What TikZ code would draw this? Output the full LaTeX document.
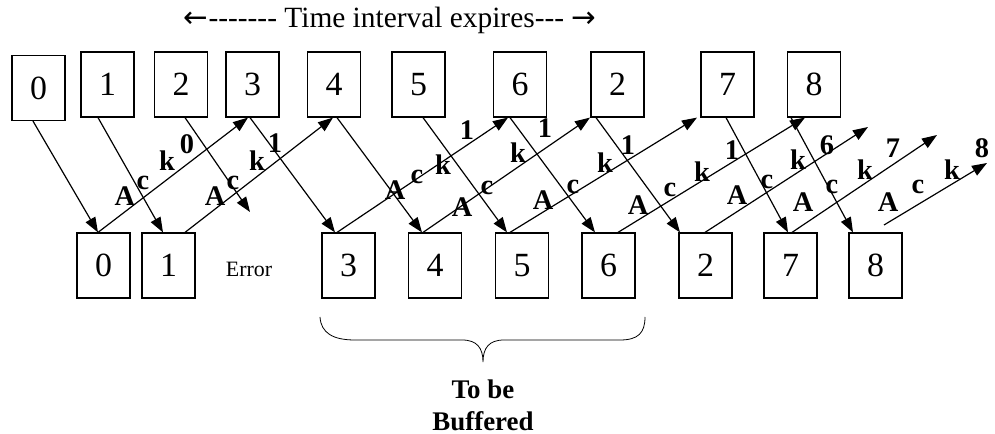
\documentclass[tikz,border=0pt]{standalone}
\usepackage{fontspec}
\setmainfont{Liberation Serif}
\newfontfamily\arrowfont{DejaVu Sans}
\usepackage{tikz}
\usetikzlibrary{arrows,arrows.meta,positioning,calc}
\tikzstyle{frame}=[draw,rectangle,minimum width=53bp,minimum height=65bp,inner sep=0pt,font=\fontsize{34}{36}\selectfont]
\tikzstyle{ack}=[inner sep=0pt,font=\bfseries\fontsize{28.5}{30}\selectfont]
\tikzstyle{pkt}=[-{Triangle[length=15bp,width=11bp]}]

\begin{document}
\begin{tikzpicture}[x=1bp,y=-1bp,very thick]
\useasboundingbox (0,0) rectangle (995,434);

% timer
\node[inner sep=0pt,font=\fontsize{29.5}{31}\selectfont] (timer) at (390,20)
  {{\arrowfont ←}-{}-{}-{}-{}-{}-{}- Time interval expires-{}-{}- {\arrowfont →}};

% sent frames
\node[frame] (s0) at (38.5,88) {0};
\node[frame] (s1) at (107.5,84.5) {1};
\node[frame] (s2) at (181,84.5) {2};
\node[frame] (s3) at (252.5,84.5) {3};
\node[frame] (s4) at (334,84.5) {4};
\node[frame] (s5) at (418.5,84.5) {5};
\node[frame] (s6) at (520,84.5) {6};
\node[frame] (s2r) at (617.5,84.5) {2};
\node[frame] (s7) at (727.5,84.5) {7};
\node[frame] (s8) at (814,84.5) {8};

% received frames
\node[frame] (r0) at (103.5,265.5) {0};
\node[frame] (r1) at (168.5,265.5) {1};
\node[inner sep=0pt,font=\fontsize{22}{24}\selectfont] (err) at (249,269) {Error};
\node[frame] (r3) at (348.5,265.5) {3};
\node[frame] (r4) at (435,265.5) {4};
\node[frame] (r5) at (522,265.5) {5};
\node[frame] (r6) at (608.5,265.5) {6};
\node[frame] (r2) at (705.5,265.5) {2};
\node[frame] (r7) at (790.5,265.5) {7};
\node[frame] (r8) at (875.5,265.5) {8};

\coordinate (lost) at (250,212);
\coordinate (f6) at (868,127);
\coordinate (f7) at (937,135);
\coordinate (f8a) at (884,225);
\coordinate (f8b) at (987,163);

% frames going down
\draw[pkt] ([xshift=-5.5bp]s0.south) -- ([xshift=-5.5bp]r0.north);
\draw[pkt] ([xshift=-9.5bp]s1.south) -- ([xshift=-5.5bp]r1.north);
\draw[pkt] ([xshift=4bp]s2.south) -- (lost);
\draw[pkt] ([xshift=-2.5bp]s3.south) -- ([xshift=-13.5bp]r3.north);
\draw[pkt] ([xshift=3bp]s4.south) -- ([xshift=-13bp]r4.north);
\draw[pkt] ([xshift=4.5bp]s5.south) -- ([xshift=-15bp]r5.north);
\draw[pkt] ([xshift=-10bp]s6.south) -- ([xshift=-13.5bp]r6.north);
\draw[pkt] ([xshift=-21.5bp]s2r.south) -- ([xshift=-25.5bp]r2.north);
\draw[pkt] ([xshift=-1.5bp]s7.south) -- ([xshift=-2.5bp]r7.north);
\draw[pkt] ([xshift=-23bp]s8.south) -- ([xshift=-22.5bp]r8.north);

% acks going up
\draw[pkt] ([xshift=-5.5bp]r0.north) -- ([xshift=-4.5bp]s3.south);
\draw[pkt] ([xshift=16.5bp]r1.north) -- ([xshift=-1bp]s4.south);
\draw[pkt] ([xshift=-11.5bp]r3.north) -- ([xshift=-12bp]s6.south);
\draw[pkt] ([xshift=-12bp]r4.north) -- ([xshift=-27.5bp]s2r.south);
\draw[pkt] ([xshift=-12bp]r5.north) -- ([xshift=-30.5bp]s7.south);
\draw[pkt] ([xshift=9.5bp]r6.north) -- ([xshift=-9bp]s8.south);
\draw[pkt] ([xshift=-0.5bp]r2.north) -- (f6);
\draw[pkt] ([xshift=1.5bp]r7.north) -- (f7);
\draw[pkt] (f8a) -- (f8b);

% ack labels
\node[ack] (a0A) at (125,196) {A}; \node[ack] (a0c) at (143,183) {c}; \node[ack] (a0k) at (167,161) {k}; \node[ack] (a0n) at (187,144) {0};
\node[ack] (a1A) at (215,196) {A}; \node[ack] (a1c) at (233,183) {c}; \node[ack] (a1k) at (257,161) {k}; \node[ack] (a1n) at (275,143) {1};
\node[ack] (a3A) at (395,190) {A}; \node[ack] (a3c) at (417,177) {c}; \node[ack] (a3k) at (443,165) {k}; \node[ack] (a3n) at (467,130) {1};
\node[ack] (a4A) at (462,207) {A}; \node[ack] (a4c) at (487,188) {c}; \node[ack] (a4k) at (518,153) {k}; \node[ack] (a4n) at (545,128) {1};
\node[ack] (a5A) at (543,200) {A}; \node[ack] (a5c) at (573,187) {c}; \node[ack] (a5k) at (605,163) {k}; \node[ack] (a5n) at (628,145) {1};
\node[ack] (a6A) at (638,205) {A}; \node[ack] (a6c) at (670,190) {c}; \node[ack] (a6k) at (702,172) {k}; \node[ack] (a6n) at (732,150) {1};
\node[ack] (a2A) at (737,195) {A}; \node[ack] (a2c) at (767,182) {c}; \node[ack] (a2k) at (798,160) {k}; \node[ack] (a2n) at (827,145) {6};
\node[ack] (a7A) at (803,202) {A}; \node[ack] (a7c) at (832,187) {c}; \node[ack] (a7k) at (865,170) {k}; \node[ack] (a7n) at (893,148) {7};
\node[ack] (a8A) at (888,202) {A}; \node[ack] (a8c) at (918,187) {c}; \node[ack] (a8k) at (952,170) {k}; \node[ack] (a8n) at (982,148) {8};

% buffer brace
\draw[line width=0.8bp] (320,317) .. controls (321,333) and (333,340) .. (355,340) -- (462,340)
  .. controls (477,340) and (483,348) .. (483,362)
  .. controls (483,348) and (489,340) .. (504,340) -- (620,340)
  .. controls (638,340) and (645,333) .. (645,317);
\node[inner sep=0pt,align=center,font=\bfseries\fontsize{27}{32}\selectfont] (buf) at (483,405) {To be\\Buffered};

\end{tikzpicture}
\end{document}
